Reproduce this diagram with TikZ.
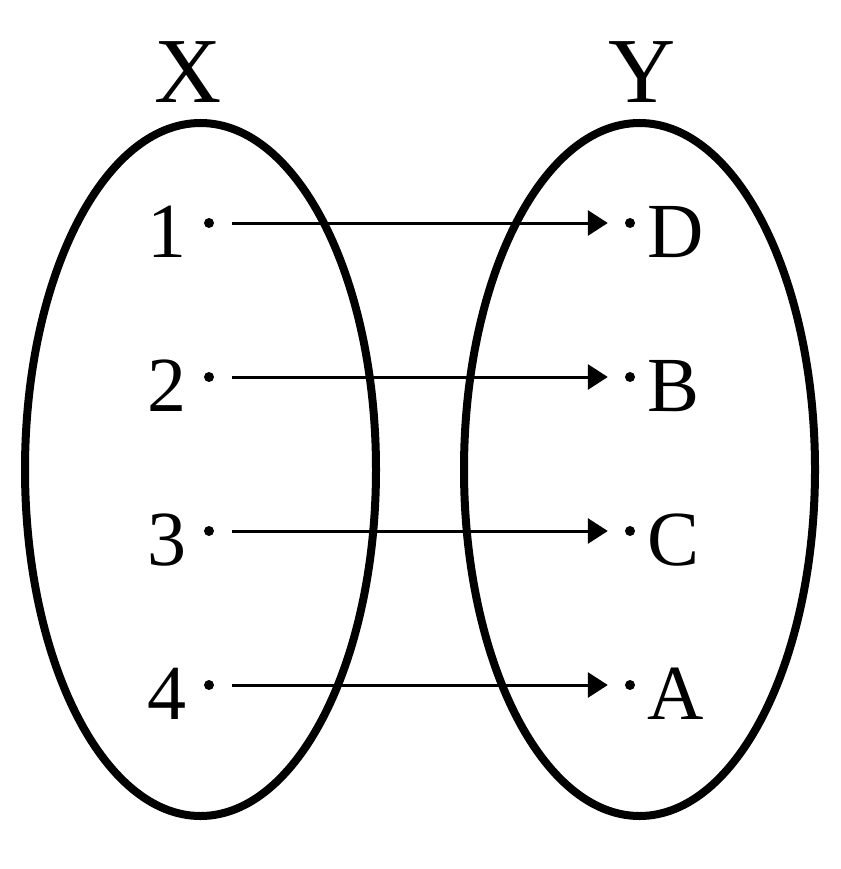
\documentclass[tikz,border=0pt]{standalone}
\usepackage{fontspec}
\setmainfont{Liberation Serif}
\usetikzlibrary{arrows.meta,positioning,shapes.geometric}

\tikzstyle{dot}=[circle,fill=black,inner sep=0pt,minimum size=10pt,node distance=154pt]
\tikzstyle{elem}=[inner sep=0pt,font=\fontsize{78}{78}\selectfont]
\tikzstyle{setname}=[inner sep=0pt,font=\fontsize{93}{93}\selectfont]
\tikzstyle{set}=[draw,ellipse,line width=8pt,inner sep=0pt,minimum width=351pt,minimum height=693pt]
\tikzstyle{map}=[line width=3pt,-{Triangle[length=20pt,width=25pt]},shorten <=18pt,shorten >=17pt]

\begin{document}
\begin{tikzpicture}[x=1pt,y=-1pt]
\useasboundingbox (0,0) rectangle (840,869);

\node [set] (setX) at (200.5,469.5) {};
\node [set] (setY) at (639.5,469.5) {};

\node [setname,anchor=base] (X) at (188,103) {X};
\node [setname,anchor=base] (Y) at (642,103) {Y};

\node [dot] (x1) at (209,223) {};
\node [dot,below of=x1] (x2) {};
\node [dot,below of=x2] (x3) {};
\node [dot,below of=x3] (x4) {};

\node [dot] (y1) at (630,223) {};
\node [dot,below of=y1] (y2) {};
\node [dot,below of=y2] (y3) {};
\node [dot,below of=y3] (y4) {};

\node [elem,anchor=base east] (n1) at (187,257) {1};
\node [elem,anchor=base east] (n2) at (187,411) {2};
\node [elem,anchor=base east] (n3) at (187,565) {3};
\node [elem,anchor=base east] (n4) at (187,719) {4};

\node [elem,anchor=base west] (lD) at (647,257) {D};
\node [elem,anchor=base west] (lB) at (647,411) {B};
\node [elem,anchor=base west] (lC) at (647,565) {C};
\node [elem,anchor=base west] (lA) at (647,719) {A};

\draw [map] (x1) -- (y1);
\draw [map] (x2) -- (y2);
\draw [map] (x3) -- (y3);
\draw [map] (x4) -- (y4);

\end{tikzpicture}
\end{document}
